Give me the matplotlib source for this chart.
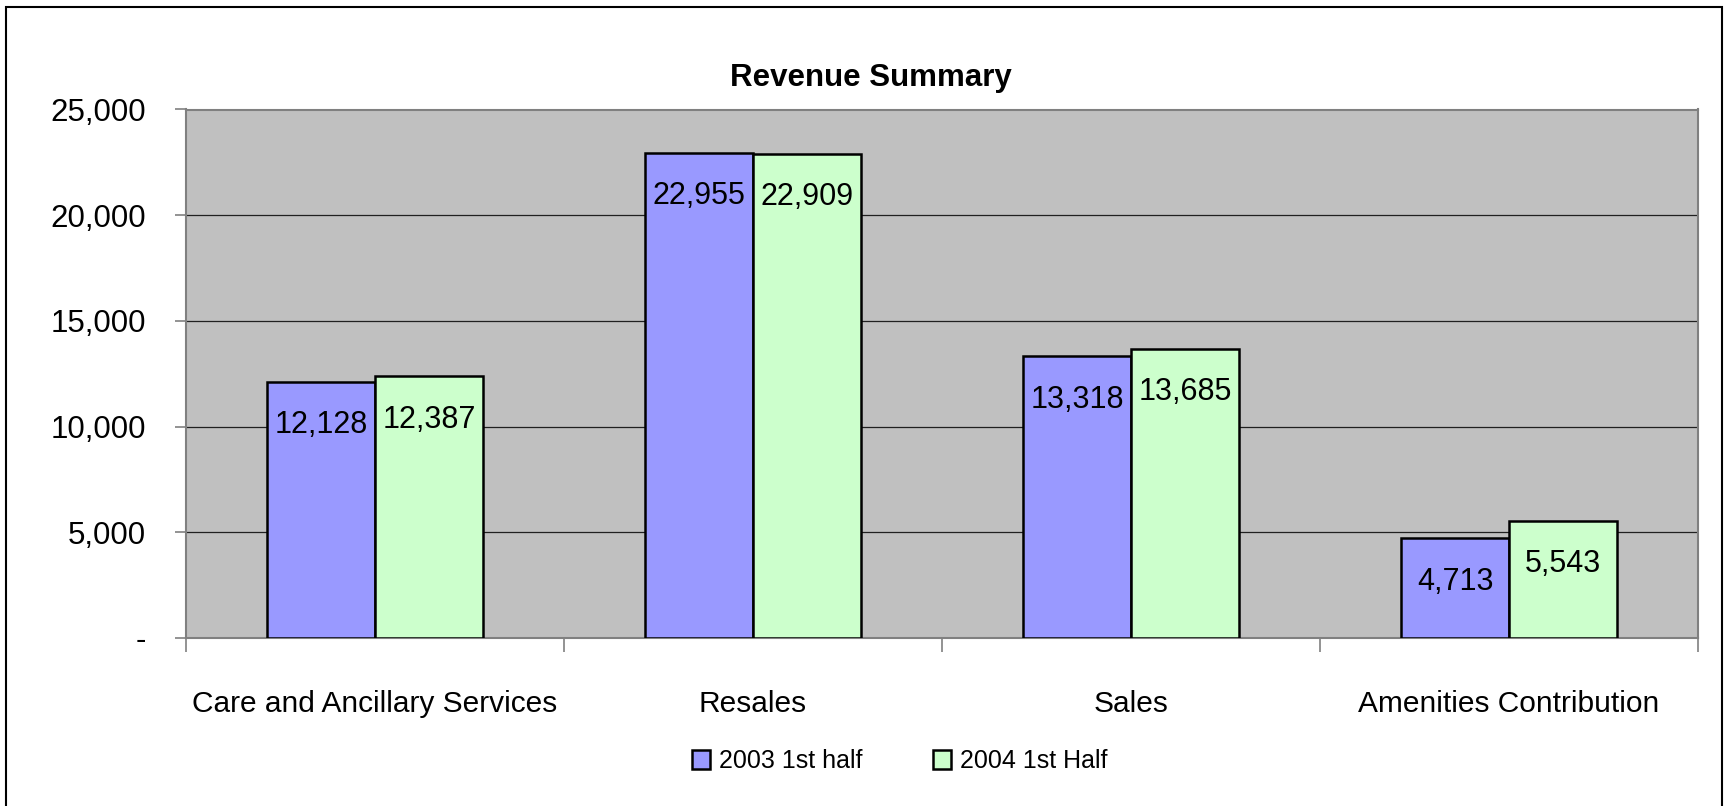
import matplotlib
matplotlib.use("Agg")
import matplotlib.pyplot as plt
from matplotlib import font_manager
from matplotlib.patches import Rectangle
from matplotlib.ticker import FuncFormatter, FixedLocator
import numpy as np

categories = ["Care and Ancillary Services", "Resales", "Sales", "Amenities Contribution"]
series_names = ["2003 1st half", "2004 1st Half"]
values_2003 = [12128, 22955, 13318, 4713]
values_2004 = [12387, 22909, 13685, 5543]
y_ticks = [0, 5000, 10000, 15000, 20000, 25000]

# Look for a narrow (Arial Narrow-like) face; otherwise use Liberation Sans at reduced sizes.
narrow_reg = narrow_bold = None
for f in font_manager.fontManager.ttflist:
    fn = f.fname.lower()
    if "narrow" in fn and "liberation" in fn:
        if f.weight in (700, "bold") and "italic" not in fn:
            narrow_bold = f.fname
        elif "italic" not in fn and "bold" not in fn:
            narrow_reg = f.fname

if narrow_reg:
    fp = font_manager.FontProperties(fname=narrow_reg)
    fpb = font_manager.FontProperties(fname=narrow_bold) if narrow_bold else font_manager.FontProperties(fname=narrow_reg, weight="bold")
    s_tick, s_bar, s_cat, s_leg, s_title = 27, 27, 27, 23, 26
else:
    fp = font_manager.FontProperties(family="Liberation Sans")
    fpb = font_manager.FontProperties(family="Liberation Sans", weight="bold")
    s_tick, s_bar, s_cat, s_leg, s_title = 22.5, 22, 21.5, 18, 22.5

plt.rcParams["font.family"] = ["Liberation Sans", "DejaVu Sans"]

W, H = 1734, 806
fig = plt.figure(figsize=(W / 100, H / 100), dpi=100)
fig.patch.set_facecolor("white")

L, R, T, B = 186, 1698, 109.5, 638
ax = fig.add_axes([L / W, 1 - B / H, (R - L) / W, (B - T) / H])
ax.set_facecolor("#C0C0C0")

x = np.arange(len(categories))
w = 1 / 3.5
c1, c2 = "#9999FF", "#CCFFCC"
b1 = ax.bar(x - w / 2, values_2003, w, color=c1, edgecolor="black", linewidth=1.8, zorder=3, label=series_names[0])
b2 = ax.bar(x + w / 2, values_2004, w, color=c2, edgecolor="black", linewidth=1.8, zorder=3, label=series_names[1])

for bars, vals in ((b1, values_2003), (b2, values_2004)):
    for rect, v in zip(bars, vals):
        ax.annotate(f"{v:,}", (rect.get_x() + rect.get_width() / 2, v),
                    xytext=(0, -37), textcoords="offset points",
                    ha="center", va="baseline", fontproperties=fp, fontsize=s_bar, zorder=4)

ax.set_xlim(-0.5, len(categories) - 0.5)
ax.set_ylim(0, 25000)
ax.set_yticks(y_ticks)
ax.yaxis.set_major_formatter(FuncFormatter(lambda v, p: "-" if v == 0 else f"{int(v):,}"))
for lab in ax.get_yticklabels():
    lab.set_fontproperties(fp)
    lab.set_fontsize(s_tick)
ax.grid(axis="y", color="#202020", linewidth=0.9, zorder=1)
ax.set_axisbelow(True)

ax.xaxis.set_major_locator(FixedLocator(np.arange(len(categories) + 1) - 0.5))
ax.set_xticklabels([])
ax.tick_params(axis="x", which="major", length=10, width=1.2, color="#808080", direction="out")
ax.tick_params(axis="y", length=8, width=1.2, color="#808080", pad=21)

for xi, cat in zip(x, categories):
    ax.annotate(cat, (xi, 0), xycoords=("data", "axes fraction"),
                xytext=(0, -53.5), textcoords="offset points",
                ha="center", va="baseline", fontproperties=fp, fontsize=s_cat)

for s in ax.spines.values():
    s.set_color("#808080")
    s.set_linewidth(1.5)

fig.text(871 / W, 1 - 86 / H, "Revenue Summary", ha="center", va="baseline",
         fontproperties=fpb, fontsize=s_title)

fp_leg = fp.copy()
fp_leg.set_size(s_leg)
leg = fig.legend(handles=[b1, b2], labels=series_names, loc="center",
                 bbox_to_anchor=(900 / W, 1 - 761 / H), ncol=2, frameon=False,
                 prop=fp_leg, handlelength=0.72, handleheight=0.8,
                 handletextpad=0.36, columnspacing=2.8, borderpad=0)
for p in leg.get_patches():
    p.set_linewidth(1.8)

fig.patches.append(Rectangle((6 / W, -0.1), (1722 - 6) / W, 1.1 - 7 / H,
                             transform=fig.transFigure, fill=False,
                             edgecolor="black", linewidth=1.5))

fig.savefig("out.png", dpi=100)
